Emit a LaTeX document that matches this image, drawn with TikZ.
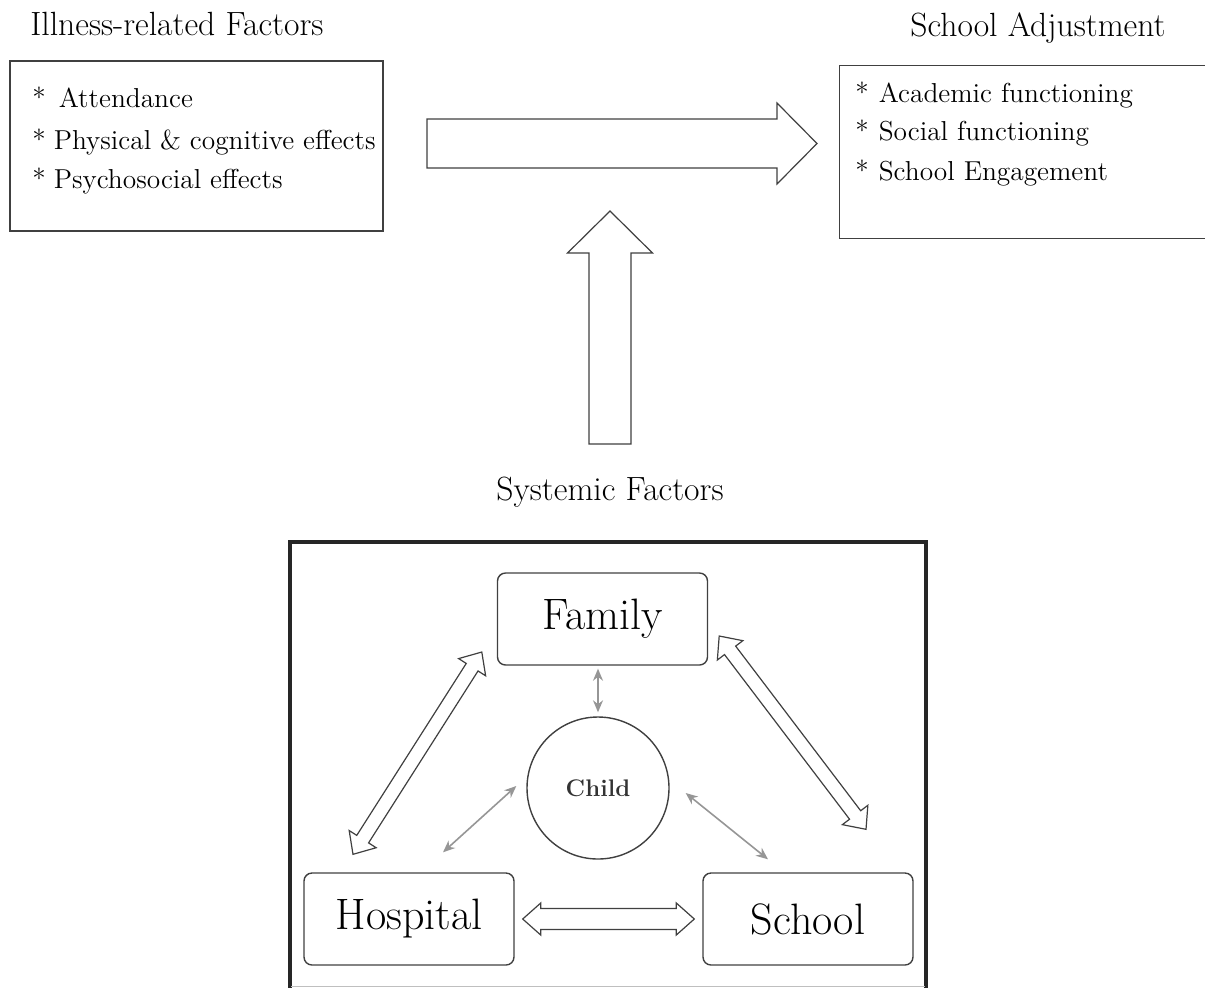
\documentclass[tikz,border=0pt]{standalone}
\usepackage{fontspec}
\usepackage{tikz}
\usetikzlibrary{positioning, arrows.meta, calc}
\definecolor{boxline}{RGB}{64,64,64}
\definecolor{linkgray}{RGB}{150,150,150}
\definecolor{framedark}{RGB}{38,38,38}
\tikzset{
  heading/.style={font=\fontsize{16.8}{20}\selectfont, inner sep=0pt, anchor=base west},
  item/.style={font=\fontsize{13.7}{16}\selectfont, inner sep=0pt, anchor=base west},
  listbox/.style={draw=boxline, line width=0.6pt, inner sep=0pt},
  agent/.style={
    draw=boxline, line width=0.7pt, rounded corners=4pt,
    minimum width=105pt, minimum height=46pt, font=\fontsize{22}{26}\selectfont
  },
  childnode/.style={
    circle, draw=boxline, line width=0.7pt, minimum size=71pt,
    inner sep=0pt, font=\fontsize{12}{14}\selectfont\bfseries, text=black!80
  },
  link/.style={draw=linkgray, line width=0.8pt,
    {Stealth[length=6pt,width=5pt]}-{Stealth[length=6pt,width=5pt]}},
  blockarrow/.style={draw=boxline, line width=0.6pt, fill=white, line join=miter},
}
% tail, tip, shaft half width, head half width, head length
\newcommand\onewayarrow[5]{%
  \coordinate (hb) at ($(#2)!#5!(#1)$);
  \draw[blockarrow] ($(#1)!#3!90:(#2)$) -- ($(hb)!#3!-90:(#1)$) -- ($(hb)!#4!-90:(#1)$)
    -- (#2) -- ($(hb)!#4!90:(#1)$) -- ($(hb)!#3!90:(#1)$) -- ($(#1)!#3!-90:(#2)$) -- cycle;
}
% tip, tip, shaft half width, head half width, head length
\newcommand\twowayarrow[5]{%
  \coordinate (ha) at ($(#1)!#5!(#2)$);
  \coordinate (hb) at ($(#2)!#5!(#1)$);
  \draw[blockarrow] (#1) -- ($(ha)!#4!90:(#2)$) -- ($(ha)!#3!90:(#2)$)
    -- ($(hb)!#3!-90:(#1)$) -- ($(hb)!#4!-90:(#1)$) -- (#2)
    -- ($(hb)!#4!90:(#1)$) -- ($(hb)!#3!90:(#1)$)
    -- ($(ha)!#3!-90:(#2)$) -- ($(ha)!#4!-90:(#2)$) -- cycle;
}

\begin{document}
\begin{tikzpicture}[x=0.5pt, y=-0.5pt]
  \useasboundingbox (0,0) rectangle (1205,987);

  % top row
  \node[heading] (illtitle) at (30,35) {Illness-related Factors};
  \node[listbox, minimum width=186.5pt, minimum height=85pt] (illness) at (196.5,146) {};
  \node[item] (att) at (32,107) {*\hspace{6.5pt}Attendance};
  \node[item] (phys) at (32,149) {*\hspace{4pt}Physical \& cognitive effects};
  \node[item] (psych) at (32,188) {*\hspace{4pt}Psychosocial effects};

  \node[heading] (adjtitle) at (910,36) {School Adjustment};
  \node[listbox, anchor=north west, minimum width=190pt, minimum height=86.5pt] (adjust) at (839,65) {};
  \node[item] (acad) at (855,102) {*\hspace{5pt}Academic functioning};
  \node[item] (soc) at (855,140) {*\hspace{5pt}Social functioning};
  \node[item] (eng) at (855,180) {*\hspace{5pt}School Engagement};

  \coordinate (flowtail) at (427,143.5);
  \coordinate (flowtip) at (817,143.5);
  \onewayarrow{flowtail}{flowtip}{12.25pt}{20.25pt}{20pt}
  \coordinate (systail) at (610,444);
  \coordinate (systip) at (610,211);
  \onewayarrow{systail}{systip}{10.5pt}{21.25pt}{21pt}

  % systemic factors
  \node[heading, anchor=base] (systitle) at (610,500) {Systemic Factors};
  \draw[framedark, line width=2pt] (290,992) -- (290,542) -- (926,542) -- (926,992);
  \draw[black!25, line width=0.5pt] (291,986) -- (925,986);

  \node[agent] (family) at (602.5,619) {Family};
  \node[agent] (hospital) at (409,919) {Hospital};
  \node[agent] (school) at (808,919) {School};
  \node[childnode] (child) at (598,788) {Child};

  \coordinate (hf1) at ($(hospital.north)+(-56,-18)$);
  \coordinate (hf2) at ($(family.west)+(-15,33)$);
  \coordinate (fs1) at ($(family.east)+(11,17)$);
  \coordinate (fs2) at ($(school.north)+(58,-43)$);
  \coordinate (hs1) at ($(hospital.east)+(8,0)$);
  \coordinate (hs2) at ($(school.west)+(-8,0)$);
  \twowayarrow{hf1}{hf2}{3.5pt}{8pt}{9pt}
  \twowayarrow{fs1}{fs2}{3.5pt}{8pt}{9pt}
  \twowayarrow{hs1}{hs2}{5.25pt}{8pt}{9pt}

  \draw[link] ($(family.south -| child.north)+(0,3)$) -- ($(child.north)+(0,-4)$);
  \draw[link] ($(child.west)+(-10,-2)$) -- ($(hospital.north)+(34,-20)$);
  \draw[link] ($(child.east)+(16,5)$) -- ($(school.north)+(-40,-13)$);
\end{tikzpicture}
\end{document}
